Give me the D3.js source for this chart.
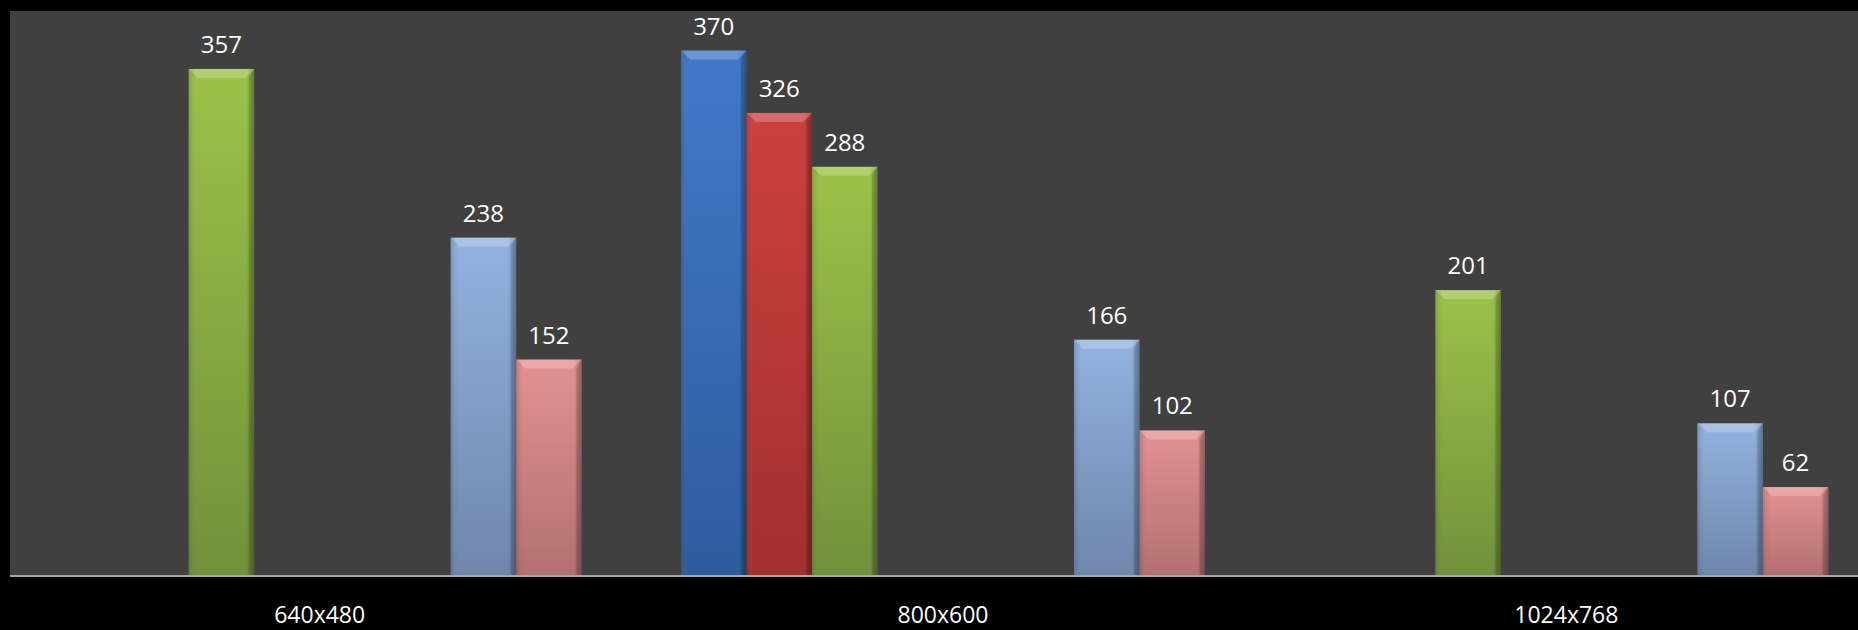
<!DOCTYPE html>
<html><head><meta charset="utf-8">
<script src="https://cdn.jsdelivr.net/npm/d3@7"></script>
<style>html,body{margin:0;padding:0;background:#000;}svg{display:block;}</style>
</head><body>
<svg id="chart" width="1858" height="630"></svg>
<script>
const categories = ["640x480", "800x600", "1024x768"];
const seriesNames = ["S1", "S2", "S3", "S4", "S5", "S6", "S7", "S8"];
const s1 = [null, 370, null];
const s2 = [null, 326, null];
const s3 = [357, 288, 201];
const s4 = [null, null, null];
const s5 = [null, null, null];
const s6 = [null, null, null];
const s7 = [238, 166, 107];
const s8 = [152, 102, 62];
const seriesValues = [s1, s2, s3, s4, s5, s6, s7, s8];
const seriesColors = [
  ["#4279c8", "#2d5c9e"],
  ["#cc4040", "#a32f2f"],
  ["#9cc24a", "#71913a"],
  ["#8064a2", "#604a7b"],
  ["#4bacc6", "#31859c"],
  ["#f79646", "#e46c0a"],
  ["#93b2df", "#6f86ad"],
  ["#e39292", "#b37070"]
];

const W = 1858, H = 630;
const svg = d3.select("#chart");
svg.append("rect").attr("width", W).attr("height", H).attr("fill", "#000");

const plotLeft = 10, plotTop = 11, axisY = 575;
svg.append("rect").attr("x", plotLeft).attr("y", plotTop)
  .attr("width", W - plotLeft).attr("height", axisY - plotTop).attr("fill", "#404040");

const x0 = d3.scaleBand().domain(categories).range([8, 1878]).paddingInner(0).paddingOuter(0);
const x1 = d3.scaleBand().domain(seriesNames).range([0, x0.bandwidth()]).paddingOuter(0.758).paddingInner(0);
const y = d3.scaleLinear().domain([0, 400]).range([axisY, 8]);

const defs = svg.append("defs");
seriesColors.forEach((c, i) => {
  const g = defs.append("linearGradient").attr("id", "g" + i).attr("x1", 0).attr("y1", 0).attr("x2", 0).attr("y2", 1);
  g.append("stop").attr("offset", "0%").attr("stop-color", c[0]);
  g.append("stop").attr("offset", "100%").attr("stop-color", c[1]);
  const h = defs.append("linearGradient").attr("id", "h" + i).attr("x1", 0).attr("y1", 0).attr("x2", 1).attr("y2", 0);
  h.append("stop").attr("offset", "0%").attr("stop-color", "#000").attr("stop-opacity", 0.18);
  h.append("stop").attr("offset", "10%").attr("stop-color", "#000").attr("stop-opacity", 0.0);
  h.append("stop").attr("offset", "88%").attr("stop-color", "#000").attr("stop-opacity", 0.0);
  h.append("stop").attr("offset", "100%").attr("stop-color", "#000").attr("stop-opacity", 0.25);
});

const bars = [];
categories.forEach((cat, ci) => {
  seriesNames.forEach((s, si) => {
    const v = seriesValues[si][ci];
    if (v !== null) bars.push({cat, s, si, v});
  });
});

const g = svg.append("g");
const bw = x1.bandwidth();
const bev = 9;
bars.forEach(b => {
  const bx = x0(b.cat) + x1(b.s);
  const by = y(b.v);
  const bh = axisY - by;
  const grp = g.append("g");
  grp.append("rect").attr("x", bx).attr("y", by).attr("width", bw).attr("height", bh).attr("fill", `url(#g${b.si})`);
  grp.append("rect").attr("x", bx).attr("y", by).attr("width", bw).attr("height", bh).attr("fill", `url(#h${b.si})`);
  grp.append("path")
    .attr("d", `M${bx},${by} L${bx + bw},${by} L${bx + bw - bev},${by + bev} L${bx + bev},${by + bev} Z`)
    .attr("fill", "#fff").attr("fill-opacity", 0.22);
  grp.append("path")
    .attr("d", `M${bx},${by} L${bx + bev * 0.6},${by + bev} L${bx + bev * 0.6},${axisY} L${bx},${axisY} Z`)
    .attr("fill", "#fff").attr("fill-opacity", 0.05);
  grp.append("path")
    .attr("d", `M${bx + bw},${by} L${bx + bw - bev * 0.6},${by + bev} L${bx + bw - bev * 0.6},${axisY} L${bx + bw},${axisY} Z`)
    .attr("fill", "#000").attr("fill-opacity", 0.12);
  g.append("text").attr("x", bx + bw / 2).attr("y", by - 16)
    .attr("text-anchor", "middle").attr("fill", "#fff")
    .attr("font-family", "'Open Sans', sans-serif").attr("font-size", 24)
    .text(b.v);
});

svg.append("line").attr("x1", plotLeft).attr("x2", W).attr("y1", axisY + 1).attr("y2", axisY + 1)
  .attr("stroke", "#a6a6a6").attr("stroke-width", 2);

const xAxis = d3.axisBottom(x0).tickSize(0).tickPadding(0);
const ax = svg.append("g").attr("transform", `translate(0,${axisY})`).call(xAxis);
ax.select(".domain").remove();
ax.selectAll("text").attr("fill", "#fff").attr("font-family", "'Open Sans', sans-serif")
  .attr("font-size", 23).attr("dy", null).attr("y", 48);
</script>
</body></html>
